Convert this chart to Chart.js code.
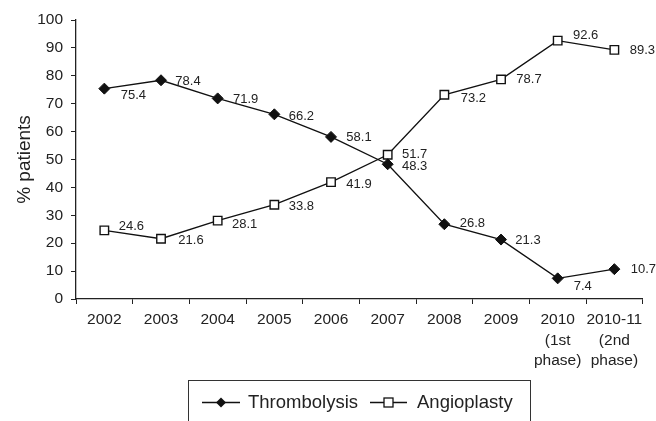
<!DOCTYPE html>
<html>
<head>
<meta charset="utf-8">
<script src="https://cdn.jsdelivr.net/npm/chart.js@4"></script>
<style>
html,body{margin:0;padding:0;background:#fff;}
#wrap{width:656px;height:421px;position:relative;}
</style>
</head>
<body>
<div id="wrap"><canvas id="c" width="656" height="421"></canvas></div>
<script>
const categories = ["2002","2003","2004","2005","2006","2007","2008","2009",["2010","(1st","phase)"],["2010-11","(2nd","phase)"]];
const thrombolysis = [75.4,78.4,71.9,66.2,58.1,48.3,26.8,21.3,7.4,10.7];
const angioplasty = [24.6,21.6,28.1,33.8,41.9,51.7,73.2,78.7,92.6,89.3];
const yTicks = [0,10,20,30,40,50,60,70,80,90,100];

// label offsets (style): [dx, dy] from point to label centre
const thrombOffsets = [[29,7],[27,1],[28,1],[27,2],[28,1],[27,2],[28,-1],[27,1],[25,8],[29,0]];
const angioOffsets = [[27,-4],[30,2],[27,4],[27,2],[28,2],[27,0],[29,4],[28,0],[28,-5],[28,1]];

const FONT = "'Liberation Sans', Arial, Helvetica, sans-serif";

const labelPlugin = {
  id: 'valueLabels',
  afterDatasetsDraw(chart) {
    const ctx = chart.ctx;
    ctx.save();
    ctx.font = "13px " + FONT;
    ctx.fillStyle = "#222";
    ctx.textAlign = "center";
    ctx.textBaseline = "middle";
    const offs = [thrombOffsets, angioOffsets];
    chart.data.datasets.forEach((ds, di) => {
      const meta = chart.getDatasetMeta(di);
      meta.data.forEach((pt, i) => {
        const o = offs[di][i];
        ctx.fillText(ds.data[i].toFixed(1), pt.x + o[0], pt.y + o[1]);
      });
    });
    ctx.restore();
  }
};

const legendPlugin = {
  id: 'boxLegend',
  afterDraw(chart) {
    const ctx = chart.ctx;
    ctx.save();
    ctx.strokeStyle = "#333";
    ctx.lineWidth = 1;
    ctx.strokeRect(188.5, 380.5, 342, 50);
    const y = 402.5;
    const items = [
      {x1: 202, x2: 240, text: chart.data.datasets[0].label, style: 'diamond', tx: 248},
      {x1: 370, x2: 407, text: chart.data.datasets[1].label, style: 'square', tx: 417}
    ];
    items.forEach(it => {
      ctx.strokeStyle = "#111";
      ctx.lineWidth = 1.3;
      ctx.beginPath();
      ctx.moveTo(it.x1, y); ctx.lineTo(it.x2, y); ctx.stroke();
      const cx = (it.x1 + it.x2) / 2;
      if (it.style === 'diamond') {
        ctx.fillStyle = "#111";
        ctx.beginPath();
        ctx.moveTo(cx, y - 5); ctx.lineTo(cx + 5, y); ctx.lineTo(cx, y + 5); ctx.lineTo(cx - 5, y); ctx.closePath();
        ctx.fill();
      } else {
        ctx.fillStyle = "#fff";
        ctx.fillRect(cx - 4.5, y - 4.5, 9, 9);
        ctx.strokeRect(cx - 4.5, y - 4.5, 9, 9);
      }
      ctx.fillStyle = "#222";
      ctx.font = "18.5px " + FONT;
      ctx.textAlign = "left";
      ctx.textBaseline = "middle";
      ctx.fillText(it.text, it.tx, y);
    });
    ctx.restore();
  }
};

new Chart(document.getElementById('c'), {
  type: 'line',
  data: {
    labels: categories,
    datasets: [
      {
        label: 'Thrombolysis',
        data: thrombolysis,
        borderColor: '#111',
        borderWidth: 1.4,
        pointStyle: 'rectRot',
        pointRadius: 5.5,
        pointBackgroundColor: '#111',
        pointBorderColor: '#111',
        pointBorderWidth: 1,
        tension: 0
      },
      {
        label: 'Angioplasty',
        data: angioplasty,
        borderColor: '#111',
        borderWidth: 1.4,
        pointStyle: 'rect',
        pointRadius: 6,
        pointBackgroundColor: '#fff',
        pointBorderColor: '#111',
        pointBorderWidth: 1.4,
        tension: 0
      }
    ]
  },
  options: {
    responsive: false,
    animation: false,
    layout: { padding: { top: 20, right: 13.3, bottom: 0, left: 0 } },
    plugins: {
      legend: { display: false },
      tooltip: { enabled: false }
    },
    scales: {
      x: {
        offset: true,
        grid: { display: true, drawOnChartArea: false, drawTicks: true, tickLength: 5, color: '#222', offset: true },
        border: { display: true, color: '#222', width: 1.3 },
        ticks: {
          color: '#222',
          font: { family: FONT, size: 15.5, lineHeight: 1.3 },
          maxRotation: 0, minRotation: 0, autoSkip: false, padding: 6
        },
        afterFit(scale) { scale.height = 122; }
      },
      y: {
        min: 0, max: 100,
        afterBuildTicks(scale) { scale.ticks = yTicks.map(v => ({ value: v })); },
        grid: { display: true, drawOnChartArea: false, drawTicks: true, tickLength: 5, color: '#222' },
        border: { display: true, color: '#222', width: 1.3 },
        ticks: { color: '#222', font: { family: FONT, size: 15.5 }, padding: 8 },
        title: { display: true, text: '% patients', color: '#222', font: { family: FONT, size: 19, lineHeight: 1 }, padding: { top: 15, bottom: 0 } },
        afterFit(scale) { scale.width = 76; }
      }
    }
  },
  plugins: [labelPlugin, legendPlugin]
});
</script>
</body>
</html>
